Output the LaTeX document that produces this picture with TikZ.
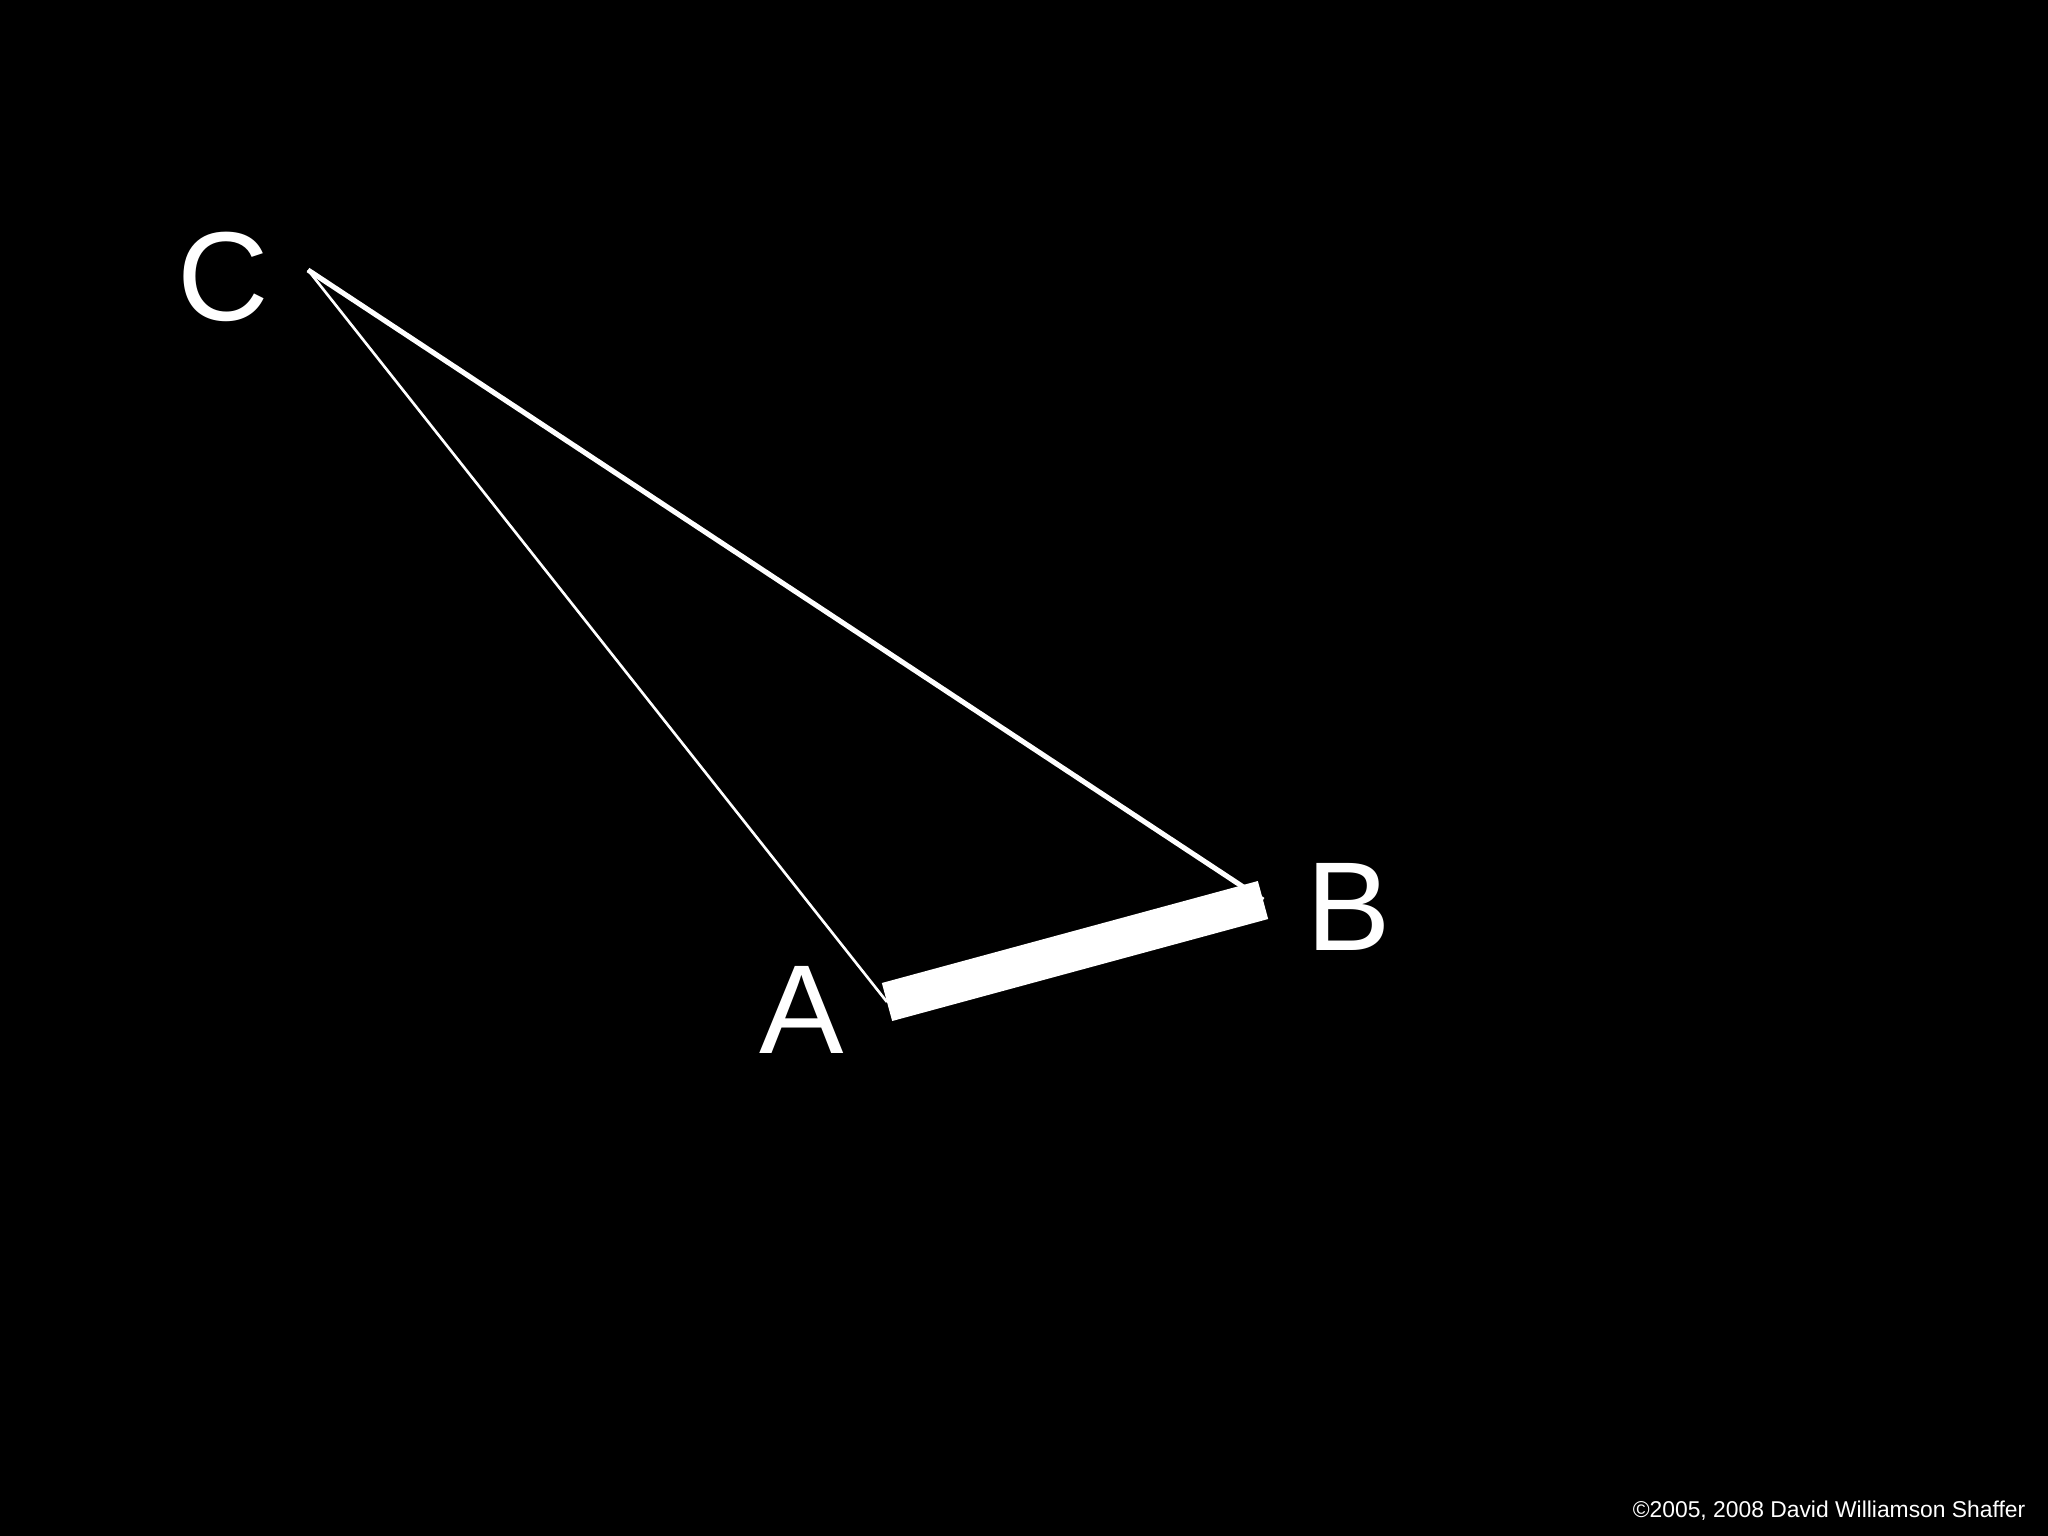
\documentclass[tikz,border=0pt]{standalone}
\usepackage{fontspec}
\setmainfont{Liberation Sans}
\begin{document}
\begin{tikzpicture}[x=0.01cm,y=-0.01cm,
  lbl/.style={text=white,font=\fontsize{36}{40}\selectfont,inner sep=0pt,anchor=base},
  edge/.style={draw=white,line cap=butt}]
\fill[black] (0,0) rectangle (2048,1536);
\useasboundingbox (0,0) rectangle (2048,1536);
\coordinate (vC) at (308,270);
\coordinate (vA) at (887,1002);
\coordinate (vB) at (1263,900);
\node[lbl] (lC) at (223,320) {C};
\node[lbl] (lA) at (802,1053) {A};
\node[lbl] (lB) at (1349,950) {B};
\draw[edge,line width=0.75pt] (vC) -- (vA);
\draw[edge,line width=1.45pt] (vC) -- (vB);
\draw[edge,line width=11.2pt] (vA) -- (vB);
\node[text=white,font=\fontsize{6.5}{7.5}\selectfont,inner sep=0pt,anchor=base east] (copy) at (2026,1517) {\textcopyright2005, 2008 David Williamson Shaffer};
\end{tikzpicture}
\end{document}
